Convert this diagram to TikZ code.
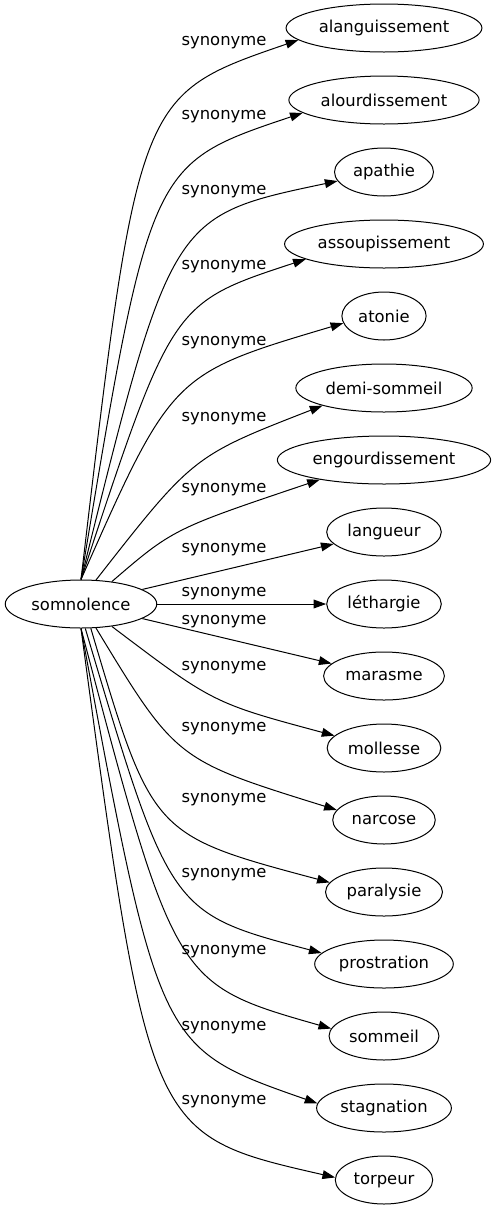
\documentclass[tikz,border=0pt]{standalone}
\usepackage{fontspec}
\setmainfont{DejaVu Sans}
\usetikzlibrary{arrows.meta, shapes.geometric}

\begin{document}
\begin{tikzpicture}[x=0.75pt, y=-0.75pt,
    font=\fontsize{12.3pt}{14pt}\selectfont,
    word/.style={ellipse, draw, line width=0.75pt, minimum height=36pt, inner xsep=3pt, inner ysep=0pt},
    syn/.style={line width=0.75pt, -{Triangle[length=9.5pt, width=6.6pt]}},
    lbl/.style={inner sep=0pt}]
    \useasboundingbox (0,0) rectangle (492,1211);
    % Source word
    \node[word] (somnolence) at (81,604) {somnolence};
    % Synonyms, one every 72px
    \foreach \id/\txt [count=\i from 0] in {alanguissement/alanguissement, alourdissement/alourdissement,
        apathie/apathie, assoupissement/assoupissement, atonie/atonie, demisommeil/demi-sommeil,
        engourdissement/engourdissement, langueur/langueur, lethargie/léthargie, marasme/marasme,
        mollesse/mollesse, narcose/narcose, paralysie/paralysie, prostration/prostration,
        sommeil/sommeil, stagnation/stagnation, torpeur/torpeur}
      \node[word] (\id) at (384,28+72*\i) {\txt};
    % Edge labels
    \foreach \y [count=\i] in {43,117,192,267,343,419,490,550,594,622,668,729,800,875,952,1028,1102}
      \node[lbl] (lbl\i) at (224,\y) {synonyme};
    % Edges going up
    \draw[syn] (somnolence.north) .. controls (138,95) .. (alanguissement.188);
    \draw[syn] (somnolence.north) .. controls (150,164) .. (alourdissement.189);
    \draw[syn] (somnolence.north) .. controls (171,216) .. (apathie.191);
    \draw[syn] (somnolence.north) .. controls (172,303) .. (assoupissement.191);
    \draw[syn] (somnolence.north) .. controls (172,374) .. (atonie.190);
    \draw[syn] (somnolence.58) .. controls (193,456) .. (demisommeil.196);
    \draw[syn] (somnolence.36) .. controls (173,529) .. (engourdissement.197);
    % Straight edges
    \draw[syn] (somnolence) -- (langueur);
    \draw[syn] (somnolence) -- (lethargie);
    \draw[syn] (somnolence) -- (marasme);
    % Edges going down
    \draw[syn] (somnolence.324) .. controls (213,703) .. (mollesse.166);
    \draw[syn] (somnolence.302) .. controls (176,760) .. (narcose.168);
    \draw[syn] (somnolence.292) .. controls (152,835) .. (paralysie.170);
    \draw[syn] (somnolence.280) .. controls (170,913) .. (prostration.170);
    \draw[syn] (somnolence.south) .. controls (175,984) .. (sommeil.172);
    \draw[syn] (somnolence.south) .. controls (159,1048) .. (stagnation.176);
    \draw[syn] (somnolence.south) .. controls (149,1135) .. (torpeur.177);
\end{tikzpicture}
\end{document}
